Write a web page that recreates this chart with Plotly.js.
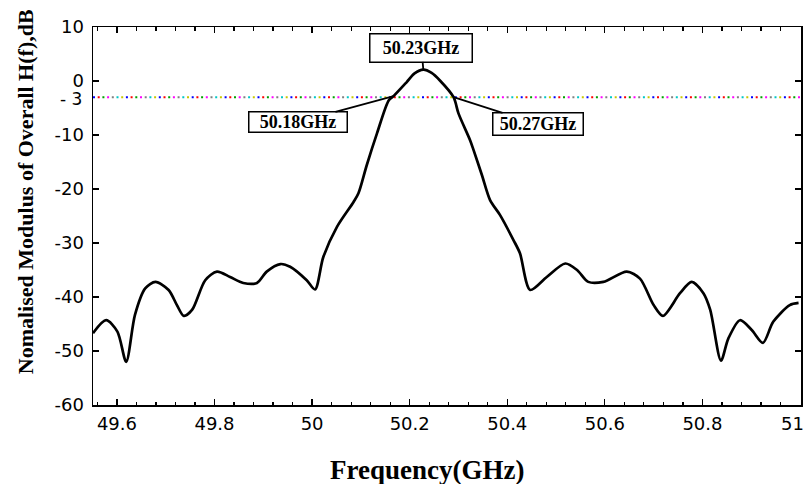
<!DOCTYPE html>
<html>
<head>
<meta charset="utf-8">
<script src="https://cdn.plot.ly/plotly-3.0.1.min.js"></script>
<style>html,body{margin:0;padding:0;background:#fff;}#chart{width:807px;height:484px;}</style>
</head>
<body>
<div id="chart"></div>
<script>
// Frequency (GHz) and normalised modulus (dB)
const freqGHz = [49.551, 49.578, 49.601, 49.619, 49.637, 49.658, 49.679, 49.706, 49.723, 49.737,
  49.754, 49.781, 49.805, 49.832, 49.859, 49.887, 49.907, 49.935, 49.955, 49.989,
  50.006, 50.023, 50.051, 50.085, 50.095, 50.112, 50.133, 50.157, 50.167,
  50.194, 50.210, 50.228, 50.245, 50.262, 50.290, 50.300, 50.324, 50.331, 50.348, 50.365, 50.385,
  50.413, 50.426, 50.447, 50.481, 50.519, 50.543, 50.566, 50.597, 50.645, 50.672,
  50.700, 50.719, 50.754, 50.778, 50.802, 50.816, 50.838, 50.853, 50.877, 50.901,
  50.924, 50.945, 50.979, 50.997];
const magnitudeDB = [-46.7, -44.3, -46.4, -52.0, -43.3, -38.4, -37.2, -38.7, -41.5, -43.5,
  -42.4, -36.9, -35.3, -36.3, -37.4, -37.4, -35.3, -33.9, -34.4, -36.9,
  -38.6, -32.6, -27.0, -22.4, -20.8, -15.6, -9.7, -3.6, -2.8,
  -0.2, 1.4, 2.1, 1.5, 0.1, -3.0, -6.0, -11.0, -12.8, -17.4, -22.1, -24.8,
  -29.5, -31.9, -38.7, -36.3, -33.8, -35.0, -37.2, -37.2, -35.3, -36.6,
  -41.5, -43.5, -39.3, -37.2, -39.3, -42.4, -51.8, -47.7, -44.3, -46.1,
  -48.5, -44.6, -41.5, -41.1];

const xRange = [49.551, 51.002];
const yRange = [-60, 10];
const xTickVals = [49.6, 49.8, 50.0, 50.2, 50.4, 50.6, 50.8, 51.0];
const xTickText = ["49.6", "49.8", "50", "50.2", "50.4", "50.6", "50.8", "51"];
const yTickVals = [10, 0, -10, -20, -30, -40, -50, -60];
const yTickText = ["10", "0", "-10", "-20", "-30", "-40", "-50", "-60"];
const refLevelDB = -3;
const refLabel = "- 3";
const xTitle = "Frequency(GHz)";
const yTitle = "Nomalised Modulus of Overall H(f),dB";

// cursor markers on the curve
const markerFreq = [50.228, 50.167, 50.290];
const markerLevel = [2.1, -2.8, -3.0];
const markerLabels = ["50.23GHz", "50.18GHz", "50.27GHz"];

const dotColors = ['#0000ff', '#ff0000', '#00a000', '#ff00ff', '#808080', '#00c8c8', '#c8c800'];

const traces = [];
// multi-coloured dotted -3 dB reference line
const pxPerGHz = 708 / (xRange[1] - xRange[0]);
dotColors.forEach((c, i) => {
  const x0 = xRange[0] + (i * 4.7) / pxPerGHz;
  traces.push({
    x: [x0, xRange[1]], y: [refLevelDB, refLevelDB],
    mode: 'lines', type: 'scatter', hoverinfo: 'skip', showlegend: false,
    line: { color: c, width: 2, dash: '2px,30.9px' }
  });
});
traces.push({
  x: freqGHz, y: magnitudeDB, mode: 'lines', type: 'scatter', showlegend: false,
  line: { color: '#000', width: 2.7, shape: 'spline', smoothing: 0.8 }
});

const serif = '"Liberation Serif", "Times New Roman", serif';
const tickFont = { family: '"DejaVu Sans", Verdana, sans-serif', size: 18, color: '#000' };
const boxFont = { family: serif, size: 18, color: '#000' };

// the last x tick label sits at the right edge; it is drawn as an annotation pulled inside
const lastIdx = xTickVals.length - 1;
const shownXTickText = xTickText.map((t, i) => (i === lastIdx ? '' : t));

const boxGeom = [
  { ax: -2, ay: -22, width: 98, height: 24, pad: 1.5 },
  { ax: -96, ay: 26, width: 96, height: 18, pad: 0.5 },
  { ax: 84, ay: 27, width: 86, height: 18, pad: 1.5 }
];
const annotations = markerLabels.map((lab, i) => ({
  x: markerFreq[i], y: markerLevel[i], ax: boxGeom[i].ax, ay: boxGeom[i].ay,
  text: '<b>' + lab + '</b>',
  xref: 'x', yref: 'y', showarrow: true, arrowhead: 0, arrowwidth: 1.8, arrowcolor: '#000',
  bordercolor: '#000', borderwidth: 1.5, bgcolor: '#fff', borderpad: boxGeom[i].pad,
  width: boxGeom[i].width, height: boxGeom[i].height, font: boxFont
}));
annotations.push({
  xref: 'paper', yref: 'y', x: 0, y: refLevelDB, xanchor: 'right', yanchor: 'middle',
  xshift: -9, yshift: -2, showarrow: false, text: refLabel,
  font: { family: tickFont.family, size: 17, color: '#000' }
});
annotations.push({
  xref: 'x', yref: 'paper', x: xTickVals[lastIdx], y: 0, xanchor: 'right', yanchor: 'top',
  xshift: 6, yshift: -6, showarrow: false, text: xTickText[lastIdx], font: tickFont
});
annotations.push({
  xref: 'paper', yref: 'paper', x: -0.096, y: 0.563, xanchor: 'center', yanchor: 'middle',
  textangle: -90, showarrow: false, text: '<b>' + yTitle + '</b>',
  font: { family: serif, size: 22, color: '#000' }
});
annotations.push({
  xref: 'paper', yref: 'paper', x: 0.472, y: -0.172, xanchor: 'center', yanchor: 'middle',
  showarrow: false, text: '<b>' + xTitle + '</b>',
  font: { family: serif, size: 27, color: '#000' }
});

const layout = {
  width: 807, height: 484,
  margin: { l: 93, r: 6, t: 27, b: 79 },
  paper_bgcolor: '#fff', plot_bgcolor: '#fff',
  showlegend: false,
  xaxis: {
    range: xRange, tickmode: 'array', tickvals: xTickVals, ticktext: shownXTickText,
    ticks: 'inside', ticklen: 6, tickwidth: 1.3, tickcolor: '#000',
    showline: true, linecolor: '#000', linewidth: 1.5, mirror: 'ticks',
    showgrid: false, zeroline: false, tickfont: tickFont, ticklabelstandoff: 2,
    minor: { tickmode: 'linear', tick0: 49.6, dtick: 0.04, ticks: 'inside', ticklen: 3.5, tickwidth: 1.2, tickcolor: '#000', showgrid: false },
    automargin: false
  },
  yaxis: {
    range: yRange, tickmode: 'array', tickvals: yTickVals, ticktext: yTickText,
    ticks: 'inside', ticklen: 6, tickwidth: 1.3, tickcolor: '#000',
    showline: true, linecolor: '#000', linewidth: 1.5, mirror: 'ticks',
    showgrid: false, zeroline: false, tickfont: tickFont, ticklabelstandoff: 4,
    automargin: false
  },
  annotations: annotations
};

Plotly.newPlot('chart', traces, layout, { displayModeBar: false, staticPlot: true });
</script>
</body>
</html>
